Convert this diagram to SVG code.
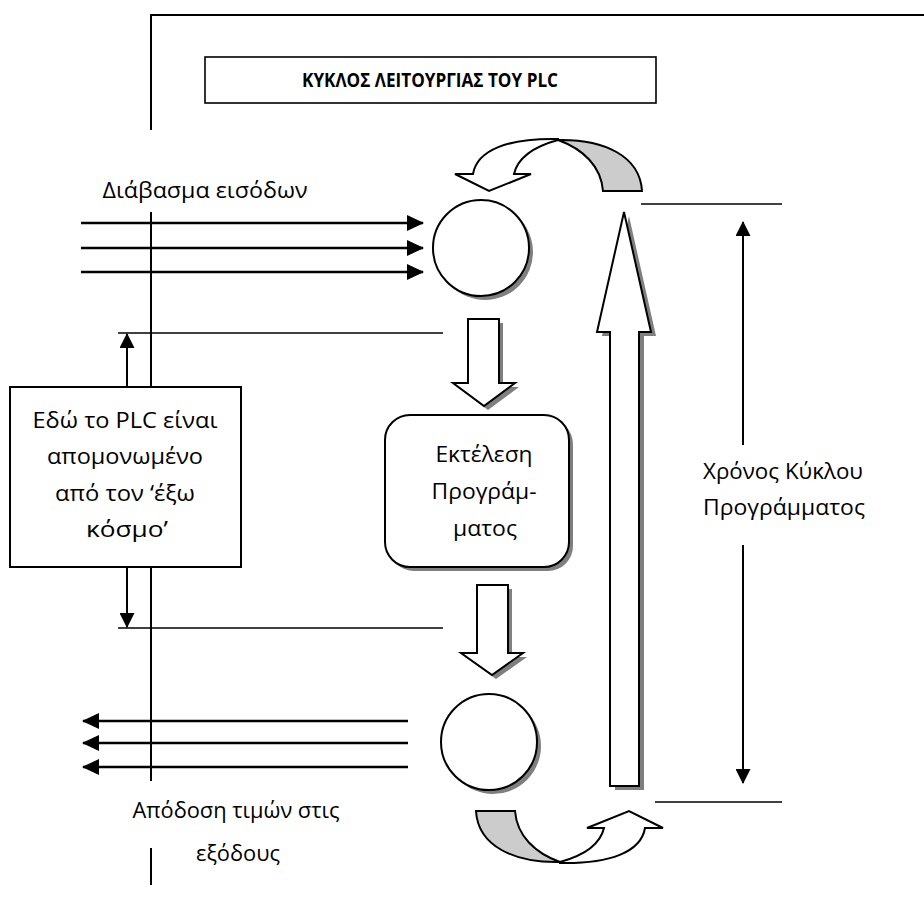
<svg xmlns="http://www.w3.org/2000/svg" width="924" height="911" viewBox="0 0 924 911">
  <style>
    .txt { font-family: "Open Sans", "Noto Sans", "DejaVu Sans", sans-serif; font-size: 21.5px; fill: #000; text-anchor: middle; }
    .title { font-family: "Open Sans", "Noto Sans", "DejaVu Sans", sans-serif; font-size: 19px; font-weight: bold; fill: #000; text-anchor: middle; }
    .shape { fill: #fff; stroke: #000; stroke-width: 2; stroke-linejoin: miter; }
    .shadow { fill: #7f7f7f; stroke: none; }
    .back { fill: #cccccc; stroke: #000; stroke-width: 2; }
    .frame { stroke: #000; stroke-width: 2; fill: none; }
    .rule { stroke: #000; stroke-width: 1.6; fill: none; }
    .flow { stroke: #000; stroke-width: 2.5; fill: none; marker-end: url(#head); }
    .dim { stroke: #000; stroke-width: 2; fill: none; marker-end: url(#headSmall); }
  </style>
  <defs>
    <marker id="head" viewBox="0 0 17 16" refX="16" refY="8" markerWidth="17" markerHeight="16" orient="auto" markerUnits="userSpaceOnUse">
      <path d="M0,0 L17,8 L0,16 Z" fill="#000"/>
    </marker>
    <marker id="headSmall" viewBox="0 0 15 15" refX="14" refY="7.5" markerWidth="15" markerHeight="15" orient="auto" markerUnits="userSpaceOnUse">
      <path d="M0,0 L15,7.5 L0,15 Z" fill="#000"/>
    </marker>
    <!-- curved return arrow (points up-right); the top one is the same shape turned round -->
    <g id="curl">
      <path class="back" d="M476,811 H515 C517,836 535,853 560,862 C514,863 478,846 476,811 Z"/>
      <path class="shape" d="M560,862 C582,856 600,845 604,828 H587 L629,811 L663,828 H645 C641,852 610,864 560,863 Z"/>
    </g>
  </defs>

  <rect width="924" height="911" fill="#fff"/>

  <!-- outer frame: top edge and the broken left edge -->
  <g id="frame">
    <line class="frame" x1="150" y1="15" x2="924" y2="15"/>
    <line class="frame" x1="151" y1="14" x2="151" y2="130"/>
    <line class="frame" x1="151" y1="212" x2="151" y2="781"/>
    <line class="frame" x1="151" y1="848" x2="151" y2="885"/>
  </g>

  <!-- title -->
  <g id="title">
    <rect x="205" y="57" width="451" height="46" fill="#fff" stroke="#000" stroke-width="1.6"/>
    <text class="title" x="430" y="87" textLength="256" lengthAdjust="spacingAndGlyphs">ΚΥΚΛΟΣ ΛΕΙΤΟΥΡΓΙΑΣ ΤΟΥ PLC</text>
  </g>

  <!-- side labels -->
  <g id="label-inputs">
    <text class="txt" x="205" y="198" textLength="205" lengthAdjust="spacingAndGlyphs">Διάβασμα εισόδων</text>
  </g>
  <g id="label-outputs">
    <text class="txt" x="236" y="818" textLength="207" lengthAdjust="spacingAndGlyphs">Απόδοση τιμών στις</text>
    <text class="txt" x="238" y="861" textLength="84" lengthAdjust="spacingAndGlyphs">εξόδους</text>
  </g>

  <!-- isolation note -->
  <g id="isolated-note">
    <rect x="10" y="387" width="231" height="180" fill="#fff" stroke="#000" stroke-width="2"/>
    <text class="txt" x="125" y="428" textLength="185" lengthAdjust="spacingAndGlyphs">Εδώ το PLC είναι</text>
    <text class="txt" x="125" y="464" textLength="156" lengthAdjust="spacingAndGlyphs">απομονωμένο</text>
    <text class="txt" x="125" y="501" textLength="140" lengthAdjust="spacingAndGlyphs">από τον ‘έξω</text>
    <text class="txt" x="127" y="537" textLength="82" lengthAdjust="spacingAndGlyphs">κόσμο’</text>
  </g>

  <!-- input scan -->
  <g id="input-scan">
    <circle class="shadow" cx="485" cy="252" r="48"/>
    <circle class="shape" cx="481" cy="248" r="48"/>
  </g>

  <!-- step arrow into execution -->
  <g id="step-1">
    <path class="shadow" d="M472,323 H503 V387 H519 L488,410 L457,387 H472 Z"/>
    <path class="shape" d="M468,319 H499 V383 H515 L484,406 L453,383 H468 Z"/>
  </g>

  <!-- program execution -->
  <g id="execute">
    <rect class="shadow" x="389" y="419" width="184" height="152" rx="25"/>
    <rect class="shape" x="385" y="415" width="184" height="152" rx="25"/>
    <text class="txt" x="484" y="462" textLength="97" lengthAdjust="spacingAndGlyphs">Εκτέλεση</text>
    <text class="txt" x="484" y="499" textLength="105" lengthAdjust="spacingAndGlyphs">Προγράμ-</text>
    <text class="txt" x="485" y="536" textLength="64" lengthAdjust="spacingAndGlyphs">ματος</text>
  </g>

  <!-- step arrow into output update -->
  <g id="step-2">
    <path class="shadow" d="M481,589 H512 V657 H527 L496,679 L465,657 H481 Z"/>
    <path class="shape" d="M477,585 H508 V653 H523 L492,675 L461,653 H477 Z"/>
  </g>

  <!-- output update -->
  <g id="output-update">
    <circle class="shadow" cx="493" cy="746" r="48"/>
    <circle class="shape" cx="489" cy="742" r="48"/>
  </g>

  <!-- return path of the cycle -->
  <g id="return-arrow">
    <path class="shadow" d="M629,216 L656,336 H644 V790 H615 V336 H602 Z"/>
    <path class="shape" d="M624,212 L651,332 H639 V786 H610 V332 H597 Z"/>
  </g>
  <g id="curl-bottom">
    <use href="#curl"/>
  </g>
  <g id="curl-top">
    <use href="#curl" transform="rotate(180 559 501)"/>
  </g>

  <!-- cycle time label -->
  <g id="cycle-time">
    <text class="txt" x="783" y="479" textLength="160" lengthAdjust="spacingAndGlyphs">Χρόνος Κύκλου</text>
    <text class="txt" x="784" y="515" textLength="162" lengthAdjust="spacingAndGlyphs">Προγράμματος</text>
  </g>

  <!-- connectors -->
  <g id="connectors">
    <line class="flow" x1="81" y1="223" x2="423" y2="223"/>
    <line class="flow" x1="81" y1="248" x2="423" y2="248"/>
    <line class="flow" x1="81" y1="272" x2="423" y2="272"/>

    <line class="flow" x1="408" y1="721" x2="83" y2="721"/>
    <line class="flow" x1="408" y1="743" x2="83" y2="743"/>
    <line class="flow" x1="408" y1="767" x2="83" y2="767"/>

    <line class="rule" x1="118" y1="333" x2="443" y2="333"/>
    <line class="rule" x1="118" y1="628" x2="443" y2="628"/>
    <line class="dim" x1="127" y1="387" x2="127" y2="334"/>
    <line class="dim" x1="127" y1="567" x2="127" y2="627"/>

    <line class="rule" x1="641" y1="204" x2="782" y2="204"/>
    <line class="rule" x1="655" y1="802" x2="782" y2="802"/>
    <line class="dim" x1="743" y1="445" x2="743" y2="222"/>
    <line class="dim" x1="743" y1="545" x2="743" y2="783"/>
  </g>
</svg>
